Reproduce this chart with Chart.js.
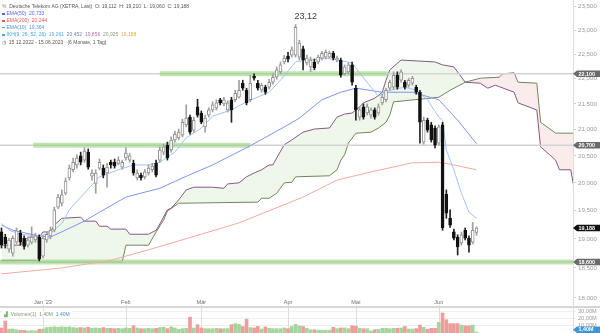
<!DOCTYPE html>
<html>
<head>
<meta charset="utf-8">
<script src="https://cdn.jsdelivr.net/npm/chart.js@4.4.0/dist/chart.umd.min.js"></script>
<style>
  html, body { margin: 0; padding: 0; background: #fff; }
  #wrap { position: relative; width: 600px; height: 333px; overflow: hidden; font-family: "Liberation Sans", Arial, sans-serif; }
  #c { position: absolute; left: 0; top: 0; }
  .lg { position: absolute; left: 2px; font-size: 5px; line-height: 6px; white-space: pre; color: #555; }
  .mk { display: inline-block; width: 3px; height: 1.6px; vertical-align: middle; margin-right: 1.5px; }
  #vol { left: 2px; top: 311px; padding: 0 2px; background: rgba(255,255,255,0.9); }
</style>
</head>
<body>
<div id="wrap">
  <canvas id="c" width="600" height="333"></canvas>
  <div class="lg" style="top:2.5px"><span style="color:#888">%</span>  Deutsche Telekom AG (XETRA, Last)  O: 19,112  H: 19,210  L: 19,060  C: 19,188</div>
  <div class="lg" style="top:10.3px;color:#5166ea"><i class="mk" style="background:#5166ea"></i>EMA(50)  20,733</div>
  <div class="lg" style="top:17.2px;color:#e65a4c"><i class="mk" style="background:#e65a4c"></i>EMA(200)  20,244</div>
  <div class="lg" style="top:24px;color:#4a9be6"><i class="mk" style="background:#4a9be6"></i>EMA(10)  19,364</div>
  <div class="lg" style="top:31.3px;color:#3fa9d9"><i class="mk" style="background:#3fa9d9"></i>IKH(9, 26, 52, 26)  <span style="color:#5aa6e0">19,261</span>  <span style="color:#7b7f9c">20,452</span>  <span style="color:#b074a4">19,856</span>  <span style="color:#8a9c74">20,925</span>  <span style="color:#e8a840">19,188</span></div>
  <div class="lg" style="top:38.7px">◷  15.12.2022 - 15.06.2023   (6 Monate, 1 Tag)</div>
  <div class="lg" id="vol"><span style="color:#7cbf6c">▟</span>  <span style="color:#7f9a74">Volumen(1)  1,40M</span>  <span style="color:#4a90d0">1,40M</span></div>
</div>
<script>
// --- daily candles 15.12.2022 - 15.06.2023 ---
const opens = [
  19.12, 19.03, 18.82, 18.75, 18.94, 19.10, 19.01, 18.89, 18.94, 18.98,
  19.03, 18.70, 18.98, 19.05, 19.15, 19.56, 19.63, 19.81, 20.09, 20.24,
  20.33, 20.50, 20.42, 20.57, 20.12, 19.99, 20.27, 20.27, 20.18, 20.38,
  20.38, 20.36, 20.29, 20.46, 20.42, 20.36, 20.09, 20.14, 20.11, 20.18,
  20.24, 20.36, 20.42, 20.57, 20.70, 20.61, 20.80, 20.84, 20.89, 21.09,
  21.24, 20.99, 21.44, 21.32, 21.05, 21.28, 21.38, 21.42, 21.58, 21.50,
  21.38, 21.58, 21.58, 21.63, 21.91, 21.77, 21.58, 22.05, 21.91, 21.77,
  21.83, 21.83, 21.93, 22.03, 22.14, 22.34, 22.46, 22.48, 22.48, 22.44,
  22.61, 22.32, 22.24, 22.34, 22.34, 22.42, 22.44, 22.44, 22.52, 22.38,
  22.38, 22.10, 22.14, 22.28, 21.81, 21.24, 21.44, 21.32, 21.28, 21.38,
  21.32, 21.52, 21.58, 21.81, 21.83, 22.07, 21.97, 21.93, 21.87, 21.91,
  21.83, 21.73, 20.76, 21.18, 21.09, 21.03, 20.74, 21.09, 19.79, 19.36,
  19.12, 19.03, 18.93, 19.15, 19.01, 18.94, 19.112
];
const highs = [
  19.19, 19.08, 19.01, 19.05, 19.19, 19.15, 19.05, 19.03, 19.21, 19.10,
  19.07, 19.05, 19.12, 19.21, 19.56, 19.79, 19.87, 20.09, 20.33, 20.46,
  20.52, 20.57, 20.65, 20.63, 20.24, 20.24, 20.44, 20.33, 20.36, 20.42,
  20.44, 20.48, 20.42, 20.65, 20.55, 20.42, 20.24, 20.18, 20.25, 20.33,
  20.36, 20.42, 20.67, 20.72, 20.76, 20.86, 20.97, 21.01, 21.20, 21.48,
  21.28, 21.24, 21.59, 21.36, 21.28, 21.42, 21.54, 21.58, 21.61, 21.63,
  21.56, 21.63, 21.77, 21.97, 21.97, 21.81, 22.07, 22.10, 21.97, 21.91,
  21.87, 21.99, 22.10, 22.24, 22.34, 22.48, 22.54, 22.65, 23.12, 22.79,
  22.67, 22.48, 22.44, 22.40, 22.48, 22.56, 22.59, 22.56, 22.56, 22.46,
  22.42, 22.28, 22.32, 22.34, 21.87, 21.44, 21.50, 21.50, 21.42, 21.42,
  21.50, 21.69, 21.81, 21.97, 22.14, 22.14, 22.18, 21.97, 22.01, 22.05,
  21.87, 21.77, 21.24, 21.22, 21.14, 21.07, 21.09, 21.14, 19.87, 19.51,
  19.17, 19.07, 19.12, 19.19, 19.05, 19.29, 19.21
];
const lows = [
  18.84, 18.84, 18.77, 18.70, 18.91, 18.89, 18.82, 18.86, 18.91, 18.94,
  18.62, 18.67, 18.94, 19.00, 19.12, 19.53, 19.58, 19.78, 20.05, 20.20,
  20.27, 20.33, 20.38, 20.25, 20.05, 19.81, 20.24, 20.09, 19.92, 20.27,
  20.27, 20.33, 20.25, 20.42, 20.38, 20.14, 20.05, 20.05, 20.07, 20.14,
  20.20, 20.11, 20.38, 20.52, 20.42, 20.57, 20.76, 20.80, 20.86, 21.05,
  20.91, 20.95, 21.24, 21.11, 20.95, 21.24, 21.34, 21.38, 21.48, 21.46,
  21.34, 21.14, 21.54, 21.61, 21.77, 21.48, 21.54, 21.97, 21.77, 21.73,
  21.69, 21.79, 21.89, 21.99, 22.10, 22.30, 22.34, 22.44, 22.44, 22.38,
  22.18, 22.28, 22.14, 22.18, 22.30, 22.38, 22.40, 22.42, 22.38, 22.34,
  22.03, 22.07, 22.10, 21.87, 21.18, 21.18, 21.20, 21.28, 21.22, 21.20,
  21.28, 21.48, 21.54, 21.77, 21.79, 21.79, 21.93, 21.79, 21.83, 21.87,
  21.69, 20.74, 20.72, 20.95, 20.76, 20.65, 20.70, 19.15, 19.36, 19.20,
  18.98, 18.72, 18.89, 18.98, 18.77, 18.91, 19.06
];
const closes = [
  18.89, 18.91, 18.98, 19.01, 19.14, 18.94, 18.87, 18.98, 19.03, 19.05,
  18.65, 19.01, 19.08, 19.15, 19.51, 19.74, 19.78, 20.03, 20.27, 20.38,
  20.46, 20.38, 20.59, 20.29, 20.18, 20.18, 20.38, 20.14, 20.29, 20.33,
  20.31, 20.42, 20.38, 20.55, 20.50, 20.18, 20.18, 20.09, 20.20, 20.27,
  20.31, 20.14, 20.61, 20.67, 20.46, 20.80, 20.91, 20.95, 21.14, 21.22,
  20.95, 21.18, 21.28, 21.14, 21.22, 21.38, 21.48, 21.52, 21.52, 21.58,
  21.52, 21.38, 21.71, 21.77, 21.81, 21.52, 21.91, 22.01, 21.81, 21.87,
  21.73, 21.93, 22.03, 22.18, 22.28, 22.42, 22.40, 22.59, 23.06, 22.73,
  22.38, 22.42, 22.38, 22.22, 22.44, 22.52, 22.54, 22.52, 22.42, 22.42,
  22.07, 22.24, 22.28, 21.93, 21.38, 21.38, 21.24, 21.44, 21.38, 21.24,
  21.44, 21.63, 21.77, 21.93, 22.07, 21.83, 22.14, 21.83, 21.97, 22.01,
  21.73, 21.14, 21.18, 20.99, 20.80, 20.70, 21.05, 19.19, 19.45, 19.24,
  19.01, 18.86, 19.07, 19.01, 18.89, 19.15, 19.188
];
// volume in millions
const volumes = [
  7, 16.5, 5.5, 5.5, 4.6, 3.7, 3.7, 2.8, 3.2, 3.0,
  5.0, 5.5, 7.5, 8, 8.5, 8, 8.5, 8, 8.5, 7.5,
  7, 7.5, 7, 8, 6.5, 7, 6.5, 7.5, 6.5, 6.5,
  6, 6.5, 6, 7, 6.5, 10, 7, 6, 6, 6.5,
  6, 6.5, 7.5, 8, 6, 8.5, 7, 5, 6, 6.5,
  22, 7, 11.5, 7, 6, 6, 6, 6.5, 6, 6,
  6, 11.5, 13, 12, 9, 19, 7.5, 7, 9, 5.5,
  8.5, 6.5, 6, 6, 6, 7, 6, 9, 12, 10,
  9, 6.5, 4.5, 4.5, 4, 4, 3.7, 4, 8, 6,
  7, 7, 6, 10, 9.5, 6.5, 6, 6, 3, 4.5,
  5, 6.5, 6.5, 6, 6.5, 6.5, 7, 9, 5.5, 5.5,
  6, 11, 8, 5, 6.5, 6.5, 14.7, 27.6, 18.4, 13,
  13, 13, 11, 10, 10, 11, 1.4
];

// --- indicator lines as [bar index, value] vertices ---
const ema10 = [[0,19.27],[2,19.15],[5,19.08],[10,19.05],[13,19.10],[16,19.27],[18,19.51],[21,19.74],[24,19.96],[26,20.11],
  [31,20.24],[35,20.33],[39,20.33],[42,20.38],[46,20.57],[49,20.84],[53,21.03],[56,21.26],[61,21.38],[65,21.54],
  [71,21.73],[74,21.97],[78,22.34],[81,22.38],[86,22.42],[89,22.38],[93,22.32],[95,22.12],[98,21.83],[100,21.65],
  [103,21.77],[107,21.83],[110,21.77],[113,21.58],[116,21.24],[117,21.18],[118,20.61],[120,20.24],[122,19.81],[124,19.47],[126,19.36]];
const ema50 = [[0,19.24],[3,19.15],[10,19.05],[13,19.03],[22,19.31],[26,19.47],[33,19.74],[42,19.90],[49,20.12],[56,20.33],
  [66,20.69],[75,21.05],[79,21.22],[85,21.58],[90,21.73],[94,21.81],[101,21.73],[109,21.73],[116,21.58],[121,21.18],[126,20.73]];
const ema200 = [[0,18.40],[16,18.50],[29,18.63],[39,18.81],[53,19.08],[63,19.28],[80,19.74],[89,20.05],[98,20.20],[109,20.37],
  [116,20.38],[120,20.33],[126,20.24]];
const spanA = [[0,18.89],[5,18.89],[7,19.03],[10,19.03],[11,19.12],[13,19.12],[14,19.24],[16,19.36],[21,19.38],[22,19.31],
  [25,19.31],[26,19.22],[28,19.22],[29,19.17],[33,19.17],[34,19.08],[39,19.08],[41,19.15],[42,19.26],[44,19.51],
  [45,19.54],[47,19.69],[49,19.87],[51,19.92],[56,19.92],[59,19.90],[60,19.98],[63,20.00],[65,20.11],[67,20.18],
  [69,20.24],[71,20.33],[72,20.33],[73,20.46],[75,20.71],[77,20.80],[79,20.90],[80,20.95],[83,21.01],[87,21.03],
  [89,21.24],[91,21.30],[93,21.32],[95,21.44],[96,21.52],[99,21.61],[101,21.73],[102,21.97],[103,22.18],[106,22.38],
  [115,22.34],[117,22.28],[120,22.24],[123,21.93],[127,21.91],[129,21.81],[131,21.87],[136,21.73],[137,21.52],[142,21.38],
  [143,20.67],[147,20.42],[148,20.24],[151,20.24],[152,19.86]];
const spanB = [[0,18.63],[9,18.63],[10,18.60],[32,18.60],[33,18.89],[39,18.89],[41,19.12],[43,19.33],[44,19.49],[47,19.63],
  [68,19.65],[69,19.72],[71,19.72],[73,19.81],[75,20.00],[77,20.01],[78,20.11],[87,20.13],[89,20.24],[90,20.42],
  [91,20.52],[92,20.74],[94,20.93],[98,20.95],[100,21.03],[102,21.14],[103,21.28],[104,21.54],[116,21.63],[119,21.77],
  [123,21.93],[127,22.01],[132,22.03],[133,22.10],[136,22.12],[137,21.93],[142,21.91],[143,21.14],[147,20.93],[152,20.93]];

// horizontal levels and the stretch where each one is marked green
const levels = [22.1, 20.7, 18.6];
const levelZones = [[42, 102.5], [8.4, 65.9], [-0.4, 151.6]];
const markValues = [22.1, 20.7, 19.188, 18.6];
const lastVolume = 1.4;
const peakIndex = 78;

// axes
const priceTicks = [18, 18.5, 19, 19.5, 20, 20.5, 21, 21.5, 22, 22.5, 23, 23.5];
const volumeTicks = [10, 20, 30];
const monthStarts = [11, 33, 53, 76, 94, 116];
const monthNames = ["Jan '23", 'Feb', 'Mär', 'Apr', 'Mai', 'Jun'];

const X_MIN = -0.4, X_MAX = 151.6;
const FONT = '"Liberation Sans", Arial, sans-serif';

const fmt = (v, d) => v.toFixed(d).replace('.', ',');
const idx = opens.map((_, i) => i);
const up = idx.map(i => closes[i] >= opens[i]);
const pts = arr => arr.map(([i, v]) => ({x: i, y: v}));

function lineSet(data, color, width, order, extra) {
  return Object.assign({type: 'line', data, yAxisID: 'y', borderColor: color, borderWidth: width,
    pointRadius: 0, tension: 0, fill: false, order}, extra || {});
}

const datasets = [
  {type: 'bar', data: idx.map(i => ({x: i, y: [opens[i], closes[i]]})), yAxisID: 'y', grouped: false,
   barThickness: 3, minBarLength: 1, borderWidth: 1, borderSkipped: false,
   backgroundColor: idx.map(i => up[i] ? '#ffffff' : '#111111'),
   borderColor: idx.map(i => up[i] ? '#909090' : '#111111'), order: 0},
  {type: 'bar', data: idx.map(i => ({x: i, y: [lows[i], highs[i]]})), yAxisID: 'y', grouped: false,
   barThickness: 1, backgroundColor: idx.map(i => up[i] ? '#a0a0a0' : '#222222'), order: 1},
  lineSet(pts(ema10), '#a2c3f7', 1, 2),
  lineSet(pts(ema50), '#8193f2', 1, 2),
  lineSet(pts(ema200), '#f4aaa2', 1, 2),
  {type: 'bar', data: idx.map(i => ({x: i, y: volumes[i]})), yAxisID: 'yv', grouped: false,
   barThickness: 3, backgroundColor: idx.map(i => up[i] ? '#a6d59b' : '#ee9c9c'), order: 3}
];
levels.forEach((lv, k) => {
  datasets.push(lineSet([{x: X_MIN, y: lv}, {x: X_MAX, y: lv}], '#d3d3d3', 1.5, 5));
  datasets.push(lineSet([{x: levelZones[k][0], y: lv}, {x: levelZones[k][1], y: lv}], 'rgba(150,212,128,0.6)', 5, 4));
});
// cloud: span A filled against span B (next dataset)
datasets.push(lineSet(pts(spanA), '#86588a', 1, 6,
  {fill: {target: '+1', above: 'rgba(190,226,175,0.26)', below: 'rgba(240,185,185,0.28)'}}));
datasets.push(lineSet(pts(spanB), '#5f7d4f', 1, 7));

function tag(ctx, x0, y, text, color) {
  ctx.fillStyle = color;
  ctx.beginPath();
  ctx.moveTo(x0, y);
  ctx.lineTo(x0 + 4, y - 3.3);
  ctx.lineTo(600, y - 3.3);
  ctx.lineTo(600, y + 3.3);
  ctx.lineTo(x0 + 4, y + 3.3);
  ctx.closePath();
  ctx.fill();
  ctx.fillStyle = '#fff';
  ctx.font = 'bold 5.4px ' + FONT;
  ctx.textAlign = 'left';
  ctx.textBaseline = 'middle';
  ctx.fillText(text, x0 + 5.5, y + 0.3);
}

const extras = {
  id: 'extras',
  beforeDatasetsDraw(chart) {
    const {ctx, chartArea, scales} = chart;
    ctx.save();
    ctx.strokeStyle = '#dedede';
    ctx.lineWidth = 1;
    monthStarts.forEach(i => {
      const px = Math.round(scales.x.getPixelForValue(i)) + 0.5;
      ctx.beginPath();
      ctx.moveTo(px, scales.yv.top - 2);
      ctx.lineTo(px, chartArea.bottom);
      ctx.stroke();
    });
    ctx.restore();
  },
  afterDatasetsDraw(chart) {
    const {ctx, scales} = chart;
    ctx.save();
    ctx.fillStyle = '#d6d6d6';
    ctx.fillRect(0, scales.yv.top - 1, chart.width, 2);
    ctx.fillStyle = '#707070';
    ctx.font = '5.6px ' + FONT;
    ctx.textAlign = 'center';
    ctx.textBaseline = 'middle';
    monthStarts.forEach((i, k) => ctx.fillText(monthNames[k], scales.x.getPixelForValue(i), scales.yv.top - 5));
    ctx.fillStyle = '#3c3c3c';
    ctx.font = '9px ' + FONT;
    ctx.textAlign = 'left';
    ctx.fillText(fmt(highs[peakIndex], 2), scales.x.getPixelForValue(peakIndex) - 1,
      scales.y.getPixelForValue(highs[peakIndex]) - 8.5);
    ctx.restore();
  },
  afterDraw(chart) {
    const {ctx, chartArea, scales} = chart;
    ctx.save();
    const colors = ['#6a6a6a', '#6a6a6a', '#111111', '#6a6a6a'];
    markValues.forEach((v, k) => tag(ctx, chartArea.right, scales.y.getPixelForValue(v), fmt(v, 3), colors[k]));
    tag(ctx, chartArea.right, Math.min(scales.yv.getPixelForValue(lastVolume), chartArea.bottom - 3.3),
      fmt(lastVolume, 2) + 'M', '#3b95d6');
    ctx.restore();
  }
};

const fixWidth = s => { s.width = 27; s.paddingTop = 0; s.paddingBottom = 0; };

new Chart(document.getElementById('c'), {
  type: 'bar',
  data: {datasets},
  plugins: [extras],
  options: {
    responsive: false,
    devicePixelRatio: 1,
    animation: false,
    events: [],
    layout: {padding: 0},
    plugins: {legend: {display: false}, tooltip: {enabled: false}},
    scales: {
      x: {type: 'linear', min: X_MIN, max: X_MAX, offset: false, display: false},
      y: {
        type: 'logarithmic', position: 'right', stack: 'panes', stackWeight: 307, weight: 0,
        min: 17.85, max: 23.645,
        afterBuildTicks: s => { s.ticks = priceTicks.map(v => ({value: v})); },
        afterFit: fixWidth,
        ticks: {callback: v => fmt(v, 3), color: '#9a9a9a', font: {size: 6.2, family: FONT}, padding: 2, autoSkip: false},
        grid: {drawOnChartArea: false, tickLength: 3, color: '#cfcfcf'},
        border: {color: '#dcdcdc'}
      },
      yv: {
        type: 'linear', position: 'right', stack: 'panes', stackWeight: 26, weight: 1,
        min: 0, max: 36,
        afterBuildTicks: s => { s.ticks = volumeTicks.map(v => ({value: v})); },
        afterFit: fixWidth,
        ticks: {callback: v => fmt(v, 2) + 'M', color: '#9a9a9a', font: {size: 5.6, family: FONT}, padding: 2, autoSkip: false},
        grid: {color: '#efefef', tickLength: 3},
        border: {color: '#dcdcdc'}
      }
    }
  }
});
</script>
</body>
</html>
